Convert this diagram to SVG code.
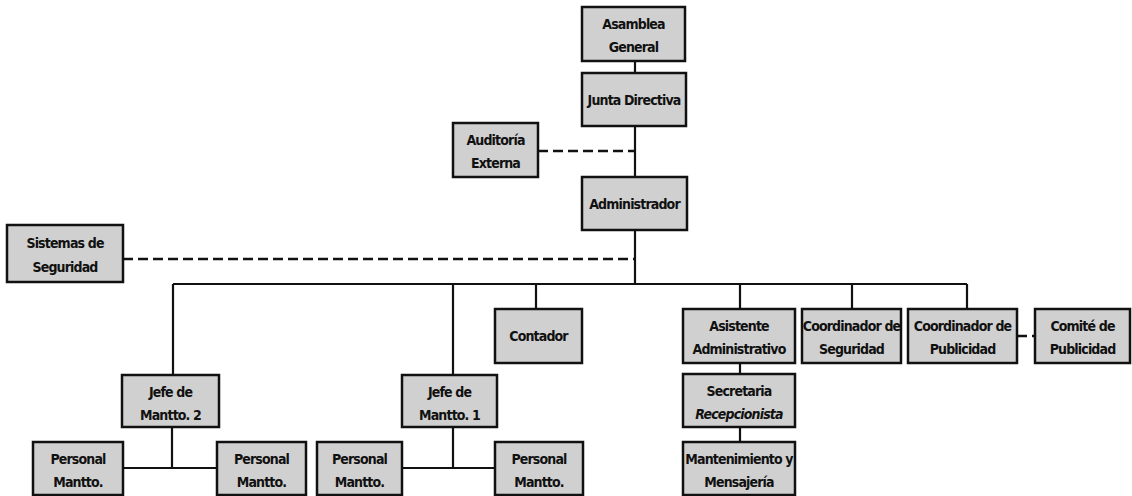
<svg xmlns="http://www.w3.org/2000/svg" width="1132" height="496" viewBox="0 0 1132 496">
  <style>
    .box { fill: #d0d0d0; stroke: #111; stroke-width: 2.5; }
    .lbl { font-family: "Liberation Sans Narrow", "DejaVu Sans Condensed", "Liberation Sans", sans-serif; font-weight: bold; font-size: 14px; fill: #111; text-anchor: middle; letter-spacing: -0.85px; }
    .it { font-style: italic; }
    .ln { stroke: #111; stroke-width: 2.2; fill: none; }
    .dash { stroke: #111; stroke-width: 2.6; fill: none; stroke-dasharray: 10 5; }
  </style>
  <rect width="1132" height="496" fill="#fff"/>

  <!-- reporting lines -->
  <g id="connectors">
    <path class="ln" d="M635 61V73M635 126V177M635 230V284"/>
    <path class="dash" d="M538 151H635"/>
    <path class="dash" d="M123 259H635"/>
    <path class="ln" d="M173 284H967"/>
    <path class="ln" d="M173 284V375M453 284V375M536 284V309M740 284V309M852 284V309M967 284V309"/>
    <path class="ln" d="M740 363V374M740 427V442"/>
    <path class="dash" d="M1017 336H1035"/>
    <path class="ln" d="M172 427V468M123 468H217"/>
    <path class="ln" d="M453 427V468M402 468H495"/>
  </g>

  <g id="asamblea">
    <rect class="box" x="582" y="7" width="103" height="54"/>
    <text class="lbl" x="633.5" y="29">Asamblea</text>
    <text class="lbl" x="633.5" y="52">General</text>
  </g>
  <g id="junta">
    <rect class="box" x="582" y="73" width="104" height="53"/>
    <text class="lbl" x="634" y="105">Junta Directiva</text>
  </g>
  <g id="auditoria">
    <rect class="box" x="453" y="123" width="85" height="54"/>
    <text class="lbl" x="495.5" y="145">Auditoría</text>
    <text class="lbl" x="495.5" y="168">Externa</text>
  </g>
  <g id="administrador">
    <rect class="box" x="582" y="177" width="105" height="53"/>
    <text class="lbl" x="634.5" y="209">Administrador</text>
  </g>
  <g id="sistemas">
    <rect class="box" x="7" y="225" width="116" height="57"/>
    <text class="lbl" x="65" y="248">Sistemas de</text>
    <text class="lbl" x="65" y="272">Seguridad</text>
  </g>
  <g id="contador">
    <rect class="box" x="495" y="309" width="87" height="54"/>
    <text class="lbl" x="538.5" y="341">Contador</text>
  </g>
  <g id="asistente">
    <rect class="box" x="683" y="309" width="112" height="54"/>
    <text class="lbl" x="739" y="331">Asistente</text>
    <text class="lbl" x="739" y="354">Administrativo</text>
  </g>
  <g id="coord-seguridad">
    <rect class="box" x="802" y="309" width="99" height="54"/>
    <text class="lbl" x="851.5" y="331">Coordinador de</text>
    <text class="lbl" x="851.5" y="354">Seguridad</text>
  </g>
  <g id="coord-publicidad">
    <rect class="box" x="908" y="309" width="109" height="54"/>
    <text class="lbl" x="962.5" y="331">Coordinador de</text>
    <text class="lbl" x="962.5" y="354">Publicidad</text>
  </g>
  <g id="comite">
    <rect class="box" x="1035" y="309" width="95" height="54"/>
    <text class="lbl" x="1082.5" y="331">Comité de</text>
    <text class="lbl" x="1082.5" y="354">Publicidad</text>
  </g>
  <g id="jefe-2">
    <rect class="box" x="122" y="375" width="97" height="52"/>
    <text class="lbl" x="170.5" y="397">Jefe de</text>
    <text class="lbl" x="170.5" y="420">Mantto. 2</text>
  </g>
  <g id="jefe-1">
    <rect class="box" x="402" y="375" width="95" height="52"/>
    <text class="lbl" x="449.5" y="397">Jefe de</text>
    <text class="lbl" x="449.5" y="420">Mantto. 1</text>
  </g>
  <g id="secretaria">
    <rect class="box" x="683" y="374" width="112" height="53"/>
    <text class="lbl" x="739" y="396">Secretaria</text>
    <text class="lbl it" x="739" y="419">Recepcionista</text>
  </g>
  <g id="mantenimiento">
    <rect class="box" x="683" y="442" width="112" height="53"/>
    <text class="lbl" x="739" y="464">Mantenimiento y</text>
    <text class="lbl" x="739" y="487">Mensajería</text>
  </g>
  <g id="personal-2a">
    <rect class="box" x="33" y="442" width="90" height="53"/>
    <text class="lbl" x="78" y="464">Personal</text>
    <text class="lbl" x="78" y="487">Mantto.</text>
  </g>
  <g id="personal-2b">
    <rect class="box" x="217" y="442" width="89" height="53"/>
    <text class="lbl" x="261.5" y="464">Personal</text>
    <text class="lbl" x="261.5" y="487">Mantto.</text>
  </g>
  <g id="personal-1a">
    <rect class="box" x="317" y="442" width="85" height="53"/>
    <text class="lbl" x="359.5" y="464">Personal</text>
    <text class="lbl" x="359.5" y="487">Mantto.</text>
  </g>
  <g id="personal-1b">
    <rect class="box" x="495" y="442" width="88" height="53"/>
    <text class="lbl" x="539" y="464">Personal</text>
    <text class="lbl" x="539" y="487">Mantto.</text>
  </g>
</svg>
